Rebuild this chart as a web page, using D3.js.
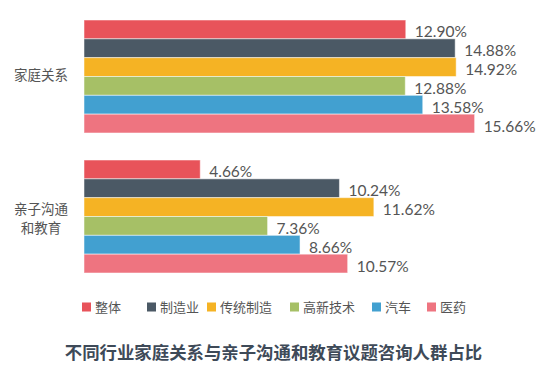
<!DOCTYPE html>
<html><head><meta charset="utf-8">
<script src="https://cdn.jsdelivr.net/npm/d3@7/dist/d3.min.js"></script>
<style>body{margin:0;background:#fff;}svg{display:block;font-family:"Noto Sans CJK SC","Noto Sans",sans-serif;}</style>
</head><body><svg id="c" width="554" height="375"></svg>
<script>
const categories = ["家庭关系", "亲子沟通\n和教育"];
const seriesNames = ["整体", "制造业", "传统制造", "高新技术", "汽车", "医药"];
const valuesFamily = [12.90, 14.88, 14.92, 12.88, 13.58, 15.66];
const valuesParent = [4.66, 10.24, 11.62, 7.36, 8.66, 10.57];
const colors = ["#e8535a", "#4b5965", "#f5b324", "#a6c066", "#42a0d0", "#ee7480"];
const title = "不同行业家庭关系与亲子沟通和教育议题咨询人群占比";

const svg = d3.select("#c");
const x = d3.scaleLinear().domain([0, 18]).range([84, 533]);
const y0 = d3.scaleBand().domain(categories).range([20, 273]).paddingInner(0.193).paddingOuter(0);
const y1 = d3.scaleBand().domain(seriesNames).range([0, y0.bandwidth()]);
const data = [valuesFamily, valuesParent];

categories.forEach((cat, gi) => {
  const g = svg.append("g").attr("transform", `translate(0,${y0(cat)})`);
  g.selectAll("rect").data(data[gi]).join("rect")
    .attr("x", x(0))
    .attr("y", (d, i) => y1(seriesNames[i]))
    .attr("width", d => x(d) - x(0))
    .attr("height", y1.bandwidth())
    .attr("fill", (d, i) => colors[i])
    .attr("stroke", "rgba(255,255,255,0.5)")
    .attr("stroke-width", 1);
  g.selectAll("text.v").data(data[gi]).join("text").attr("class", "v")
    .attr("x", d => x(d) + 9)
    .attr("y", (d, i) => y1(seriesNames[i]) + y1.bandwidth() / 2 + 8)
    .attr("font-size", 15.5).attr("fill", "#555")
    .attr("font-family", "'Source Sans Pro','Lato','Open Sans',sans-serif")
    .text(d => d.toFixed(2) + "%");
  const lines = cat.split("\n");
  const cy = y0.bandwidth() / 2 + (lines.length > 1 ? 2.5 : -1.5);
  lines.forEach((ln, li) => {
    g.append("text")
      .attr("x", 41).attr("text-anchor", "middle")
      .attr("y", cy + (li - (lines.length - 1) / 2) * 19 + 5)
      .attr("font-size", 13.5).attr("fill", "#555")
      .text(ln);
  });
});

const legendX = [82, 147, 207, 290, 372, 427];
const lg = svg.append("g").attr("transform", "translate(0,307)");
seriesNames.forEach((s, i) => {
  lg.append("rect").attr("x", legendX[i]).attr("y", -4.5).attr("width", 9).attr("height", 9).attr("fill", colors[i]);
  lg.append("text").attr("x", legendX[i] + 13).attr("y", 5).attr("font-size", 13).attr("fill", "#555").text(s);
});

svg.append("text").attr("x", 273.5).attr("y", 359).attr("text-anchor", "middle")
  .attr("font-size", 17.4).attr("font-weight", 600).attr("fill", "#3e4a58").text(title);
</script></body></html>
